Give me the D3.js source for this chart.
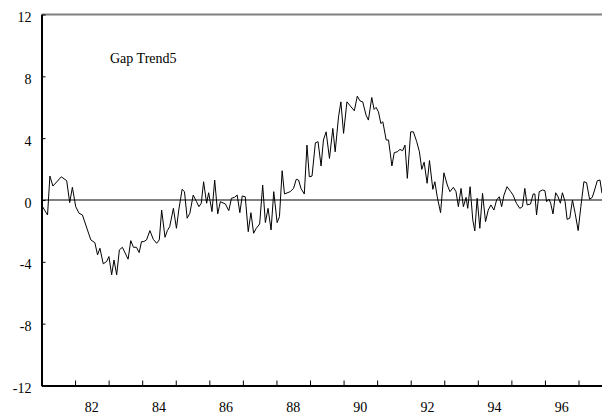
<!DOCTYPE html>
<html>
<head>
<meta charset="utf-8">
<script src="https://cdn.jsdelivr.net/npm/d3@7"></script>
<style>
  body { margin: 0; background: #fff; }
  text { font-family: "Liberation Serif", "Times New Roman", serif; }
</style>
</head>
<body>
<div id="chart"></div>
<script>
// chart size
const WIDTH = 602;
const HEIGHT = 419;

// dates (decimal years) and the gap series
const dates = [
  1981.00, 1981.18, 1981.25, 1981.34, 1981.59, 1981.75, 1981.84, 1981.92,
  1982.02, 1982.12, 1982.22, 1982.37, 1982.47, 1982.59, 1982.67, 1982.74, 1982.84, 1982.94,
  1983.01, 1983.09, 1983.16, 1983.24, 1983.32, 1983.41, 1983.58, 1983.66, 1983.74, 1983.83, 1983.91, 1983.98,
  1984.05, 1984.13, 1984.23, 1984.33, 1984.43, 1984.51, 1984.58, 1984.68, 1984.75, 1984.82, 1984.93,
  1985.02, 1985.09, 1985.19, 1985.26, 1985.34, 1985.42, 1985.52, 1985.62, 1985.69, 1985.76, 1985.83, 1985.92, 1985.98,
  1986.08, 1986.16, 1986.25, 1986.33, 1986.48, 1986.58, 1986.66, 1986.75, 1986.83, 1986.91, 1986.98,
  1987.07, 1987.16, 1987.24, 1987.32, 1987.40, 1987.50, 1987.59, 1987.67, 1987.75, 1987.84, 1987.92,
  1988.02, 1988.09, 1988.17, 1988.24, 1988.41, 1988.51, 1988.59, 1988.66, 1988.73, 1988.83, 1988.91, 1988.98,
  1989.06, 1989.16, 1989.24, 1989.33, 1989.40, 1989.48, 1989.58, 1989.68, 1989.75, 1989.85, 1989.92,
  1990.00, 1990.10, 1990.18, 1990.32, 1990.41, 1990.49, 1990.57, 1990.67, 1990.74, 1990.84, 1990.91, 1990.97,
  1991.04, 1991.11, 1991.17, 1991.27, 1991.34, 1991.44, 1991.51, 1991.60, 1991.68, 1991.76, 1991.83, 1991.90,
  1992.00, 1992.08, 1992.18, 1992.26, 1992.33, 1992.40, 1992.49, 1992.56, 1992.66, 1992.72, 1992.79, 1992.89, 1992.99,
  1993.09, 1993.17, 1993.27, 1993.35, 1993.42, 1993.50, 1993.57, 1993.65, 1993.70, 1993.77, 1993.85, 1993.91, 1993.98,
  1994.06, 1994.14, 1994.23, 1994.31, 1994.39, 1994.48, 1994.56, 1994.64, 1994.71, 1994.78, 1994.87, 1994.98,
  1995.05, 1995.15, 1995.25, 1995.33, 1995.40, 1995.47, 1995.57, 1995.65, 1995.70, 1995.75, 1995.83, 1995.93,
  1996.00, 1996.05, 1996.12, 1996.17, 1996.24, 1996.32, 1996.39, 1996.46, 1996.52, 1996.60, 1996.66, 1996.74, 1996.82, 1996.90, 1996.99,
  1997.07, 1997.16, 1997.24, 1997.33, 1997.41, 1997.48, 1997.56, 1997.64, 1997.70
];
const gapValues = [
  -0.32, -0.97, 1.55, 0.90, 1.50, 1.25, -0.17, 0.82,
  -0.43, -0.86, -0.97, -1.94, -2.58, -2.76, -3.55, -3.12, -4.13, -3.98,
  -3.66, -4.84, -3.88, -4.84, -3.23, -3.06, -3.83, -2.63, -3.06, -3.06, -3.40, -2.69,
  -2.69, -2.58, -1.98, -2.54, -2.80, -2.58, -0.65, -2.41, -1.98, -1.72, -0.54,
  -1.83, -0.65, 0.69, 0.54, -1.18, -0.86, 0.32, -0.11, -0.43, -0.21, 1.18, -0.21, 0.47,
  -0.75, 1.29, -0.90, -0.11, -0.26, -0.69, 0.11, 0.17, 0.32, -0.82, 0.26,
  0.21, -2.05, -0.82, -2.15, -1.83, -1.55, 0.97, -1.46, -0.54, -1.94, 0.54,
  -1.46, -1.08, 1.89, 0.39, 0.54, 0.75, 1.34, 1.29, 0.75, 0.39, 3.55, 1.50,
  1.55, 3.70, 3.77, 2.20, 3.88, 4.41, 2.69, 4.63, 3.12, 5.38, 6.35,
  4.31, 6.35, 6.14, 5.77, 6.72, 6.41, 6.35, 5.49, 5.17, 6.63, 5.86, 5.99,
  5.70, 4.95, 5.06, 3.88, 3.88, 2.20, 3.06, 3.12, 3.27, 3.19, 3.55, 1.40,
  4.41, 4.41, 3.77, 3.12, 1.98, 2.45, 1.08, 2.55, 0.69, 1.18, 0.21, -0.82, 1.76,
  0.97, 0.54, 0.82, 0.54, -0.43, 0.75, -0.43, 0.17, -0.54, 0.86, -1.29, -2.00, 0.11,
  -1.83, 0.43, -1.40, -0.65, -0.32, -0.65, 0.00, 0.21, -0.43, 0.32, 0.86, 0.54,
  0.32, -0.21, -0.54, -0.43, 0.75, -0.32, -0.26, 0.39, 0.39, -0.97, 0.54, 0.65,
  0.60, -0.11, 0.05, -0.21, -0.90, 0.47, 0.21, -0.21, 0.47, -0.11, -1.25, -1.18, 0.00, -0.86, -1.98,
  -0.43, 1.18, 1.12, 0.05, 0.17, 0.65, 1.25, 1.29, 0.43
];

// axis ticks
const yTicks = [-12, -8, -4, 0, 4, 8, 12];
const yearTicks = d3.range(1982, 1998);
const yearLabels = [82, 84, 86, 88, 90, 92, 94, 96];

const data = dates.map((d, i) => ({date: d, value: gapValues[i]}));

const svg = d3.select("#chart")
  .append("svg")
  .attr("width", WIDTH)
  .attr("height", HEIGHT);

const xScale = d3.scaleLinear()
  .domain([1981, 1997.70])
  .range([41.5, 602]);

const yScale = d3.scaleLinear()
  .domain([-12, 12])
  .range([385.5, 14.5]);

// top border (gray)
svg.append("line")
  .attr("x1", xScale(1981)).attr("x2", WIDTH)
  .attr("y1", yScale(12)).attr("y2", yScale(12))
  .attr("stroke", "#808080")
  .attr("stroke-width", 2);

// zero line
svg.append("line")
  .attr("x1", xScale(1981)).attr("x2", WIDTH)
  .attr("y1", yScale(0)).attr("y2", yScale(0))
  .attr("stroke", "#808080")
  .attr("stroke-width", 2);

// left axis, ticks point inward; plain hyphen for negatives
const yAxis = d3.axisLeft(yScale)
  .tickValues(yTicks)
  .tickSize(-4)
  .tickPadding(10)
  .tickSizeOuter(0)
  .tickFormat(d => String(d));

const gy = svg.append("g")
  .attr("transform", "translate(" + xScale(1981) + ",0)")
  .call(yAxis);
gy.select(".domain").attr("stroke", "#000").attr("stroke-width", 2);
gy.selectAll(".tick line").attr("stroke", "#000");
gy.selectAll(".tick text")
  .attr("font-size", 14)
  .attr("fill", "#000")
  .attr("dy", "0.5em");

// bottom axis, ticks at each year boundary
const xAxis = d3.axisBottom(xScale)
  .tickValues(yearTicks)
  .tickSize(-5)
  .tickFormat("")
  .tickSizeOuter(0);

const gx = svg.append("g")
  .attr("transform", "translate(0," + yScale(-12) + ")")
  .call(xAxis);
gx.select(".domain").attr("stroke", "#000").attr("stroke-width", 2);
gx.selectAll(".tick line").attr("stroke", "#000");

// year labels centred in each year
svg.append("g")
  .selectAll("text")
  .data(yearLabels)
  .enter()
  .append("text")
    .attr("x", d => xScale(1900 + d + 0.5))
    .attr("y", 412)
    .attr("text-anchor", "middle")
    .attr("font-size", 14)
    .attr("fill", "#000")
    .text(d => d);

// the series
const line = d3.line()
  .x(d => xScale(d.date))
  .y(d => yScale(d.value));

svg.append("path")
  .datum(data)
  .attr("d", line)
  .attr("fill", "none")
  .attr("stroke", "#000")
  .attr("stroke-width", 1);

// series title
svg.append("text")
  .attr("x", 110)
  .attr("y", 63)
  .attr("font-size", 14)
  .attr("fill", "#000")
  .text("Gap Trend5");
</script>
</body>
</html>
